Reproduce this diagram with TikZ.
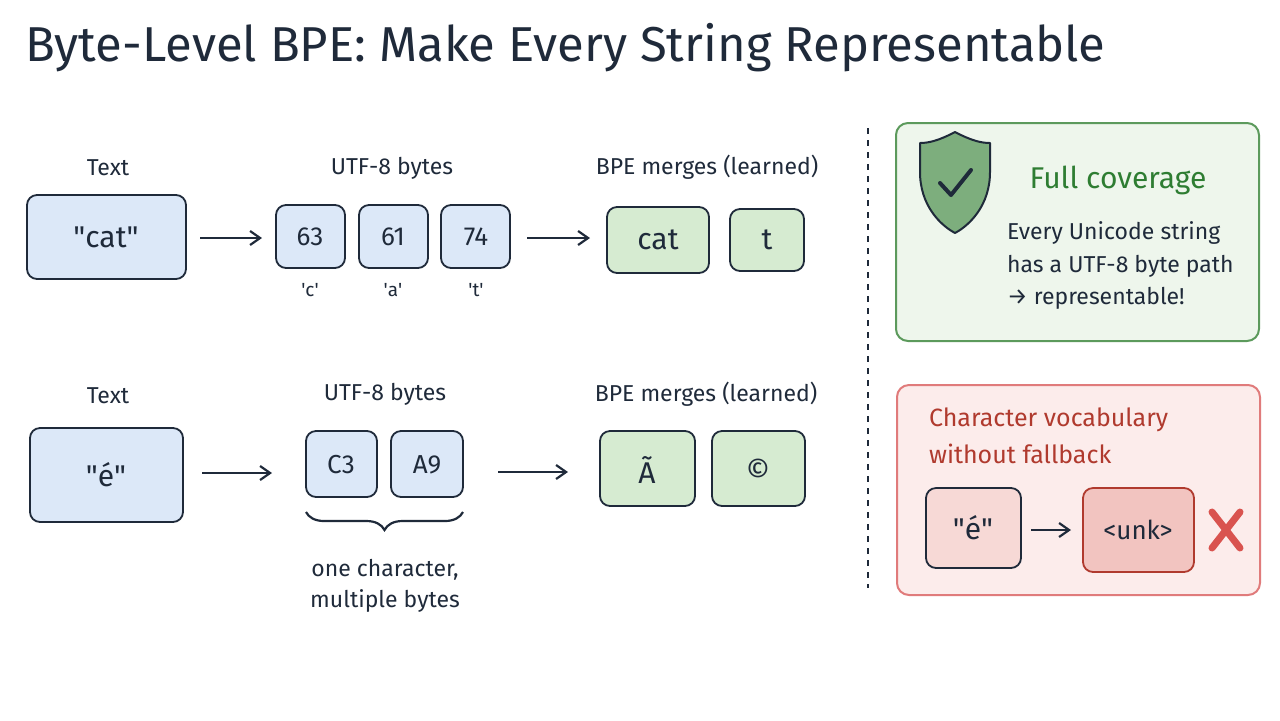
\documentclass[tikz,border=0pt]{standalone}
\usepackage{fontspec}
\setmainfont{Fira Sans}
\usetikzlibrary{decorations.pathreplacing,arrows.meta}
\definecolor{bfill}{HTML}{DCE8F8}
\definecolor{ink}{HTML}{1F2A3A}
\definecolor{gfill}{HTML}{D6EBD1}
\definecolor{gpanel}{HTML}{EEF6EC}
\definecolor{gpline}{HTML}{5C9A5C}
\definecolor{rpanel}{HTML}{FCECEB}
\definecolor{rpline}{HTML}{E07B7B}
\definecolor{rfill}{HTML}{F7D9D6}
\definecolor{unkfill}{HTML}{F2C4C0}
\definecolor{gtitle}{HTML}{2E7D32}
\definecolor{rtitle}{HTML}{B03A2E}
\definecolor{xred}{HTML}{D9534F}
\begin{document}
\begin{tikzpicture}[x=0.5pt,y=-0.5pt,
  lab/.style={font=\fontsize{11.5}{13}\selectfont, text=ink},
  mid/.style={font=\fontsize{13}{15}\selectfont, text=ink},
  bbox/.style={draw=ink, line width=0.9pt, fill=bfill, rounded corners=5pt},
  gbox/.style={draw=ink, line width=0.9pt, fill=gfill, rounded corners=5pt},
  big/.style={font=\fontsize{15}{17}\selectfont, text=ink},
  arr/.style={-{Straight Barb[length=5pt,width=7pt]}, line width=1.1pt, draw=ink}]
\useasboundingbox (0,0) rectangle (1280,720);
\node[anchor=west, font=\fontsize{24.5}{28}\selectfont, text=ink] (title) at (18,48) {Byte-Level BPE: Make Every String Representable};
% row 1
\node[lab] (t1) at (108,168) {Text};
\draw[bbox] (27,195) rectangle (186,279); \node[big] (cat) at (106,237) {\textquotedbl cat\textquotedbl};
\node[lab] (u1) at (392,168) {UTF-8 bytes};
\draw[bbox] (276,205) rectangle (345,268); \node[mid] (b63) at (310,237) {63};
\draw[bbox] (359,205) rectangle (428,268); \node[mid] (b61) at (393,237) {61};
\draw[bbox] (441,205) rectangle (510,268); \node[mid] (b74) at (476,237) {74};
\node[lab,font=\fontsize{9.5}{11}\selectfont] (c1) at (310,290) {\textquotesingle c\textquotesingle};
\node[lab,font=\fontsize{9.5}{11}\selectfont] (c2) at (393,290) {\textquotesingle a\textquotesingle};
\node[lab,font=\fontsize{9.5}{11}\selectfont] (c3) at (476,290) {\textquotesingle t\textquotesingle};
\node[lab] (m1) at (707,167) {BPE merges (learned)};
\draw[gbox] (607,207) rectangle (709,273); \node[big] (gcat) at (658,240) {cat};
\draw[gbox] (730,209) rectangle (804,271); \node[big] (gt) at (767,240) {t};
\coordinate (a1s) at (200,238); \coordinate (a1e) at (262,238);
\draw[arr] (a1s) -- (a1e);
\coordinate (a2s) at (527,238); \coordinate (a2e) at (590,238);
\draw[arr] (a2s) -- (a2e);
% row 2
\node[lab] (t2) at (108,396) {Text};
\draw[bbox] (30,428) rectangle (183,522); \node[big] (e) at (106,475) {\textquotedbl é\textquotedbl};
\node[lab] (u2) at (385,394) {UTF-8 bytes};
\draw[bbox] (306,431) rectangle (377,497); \node[mid] (c3b) at (341,465) {C3};
\draw[bbox] (391,431) rectangle (463,497); \node[mid] (a9) at (427,465) {A9};
\draw[decorate, decoration={brace, mirror, amplitude=9pt}, line width=1.1pt, draw=ink] (306,512) -- (463,512);
\node[lab] (oc) at (385,570) {one character,};
\node[lab] (mb) at (385,601) {multiple bytes};
\node[lab] (m2) at (706,394) {BPE merges (learned)};
\draw[gbox] (600,431) rectangle (695,506); \node[big] (at) at (647,470) {Ã};
\draw[gbox] (712,431) rectangle (805,506); \node[big] (co) at (758,470) {©};
\coordinate (a3s) at (202,473); \coordinate (a3e) at (272,473);
\draw[arr] (a3s) -- (a3e);
\coordinate (a4s) at (498,472); \coordinate (a4e) at (568,472);
\draw[arr] (a4s) -- (a4e);
% divider
\draw[ink, dashed, line width=0.8pt] (868,128) -- (868,588);
% green panel
\draw[draw=gpline, fill=gpanel, line width=1pt, rounded corners=6pt] (896,123) rectangle (1259,341);
\draw[draw=ink, fill=gpline!80, line width=1pt, line join=round]
  (955,132) .. controls (972,141) and (982,143) .. (990,143) -- (990,172)
  .. controls (990,205) and (970,225) .. (955,233)
  .. controls (940,225) and (920,205) .. (920,172) -- (920,143)
  .. controls (928,143) and (938,141) .. (955,132) -- cycle;
\draw[ink, line width=2pt, line cap=round, line join=round] (940,183) -- (951,195) -- (971,170);
\node[anchor=center, font=\fontsize{15}{18}\selectfont, text=gtitle] (fc) at (1118,180) {Full coverage};
\node[anchor=west, lab] (l1) at (1000,233) {Every Unicode string};
\node[anchor=west, lab] (l2) at (1000,266) {has a UTF-8 byte path};
\node[anchor=west, lab] (l3) at (1000,298) {→ representable!};
% red panel
\draw[draw=rpline, fill=rpanel, line width=1pt, rounded corners=6pt] (897,385) rectangle (1260,595);
\node[anchor=west, font=\fontsize{12.5}{15}\selectfont, text=rtitle] (r1) at (922,420) {Character vocabulary};
\node[anchor=west, font=\fontsize{12.5}{15}\selectfont, text=rtitle] (r2) at (922,454) {without fallback};
\draw[draw=ink, fill=rfill, line width=0.9pt, rounded corners=5pt] (926,488) rectangle (1021,568);
\node[big] (re) at (973,528) {\textquotedbl é\textquotedbl};
\draw[draw=rtitle, fill=unkfill, line width=0.9pt, rounded corners=5pt] (1083,488) rectangle (1194,572);
\node[mid] (unk) at (1138,530) {<unk>};
\coordinate (a5s) at (1031,530); \coordinate (a5e) at (1071,530);
\draw[arr] (a5s) -- (a5e);
\draw[xred, line width=3.5pt, line cap=round] (1212,512) -- (1240,548) (1240,512) -- (1212,548);
\end{tikzpicture}
\end{document}
